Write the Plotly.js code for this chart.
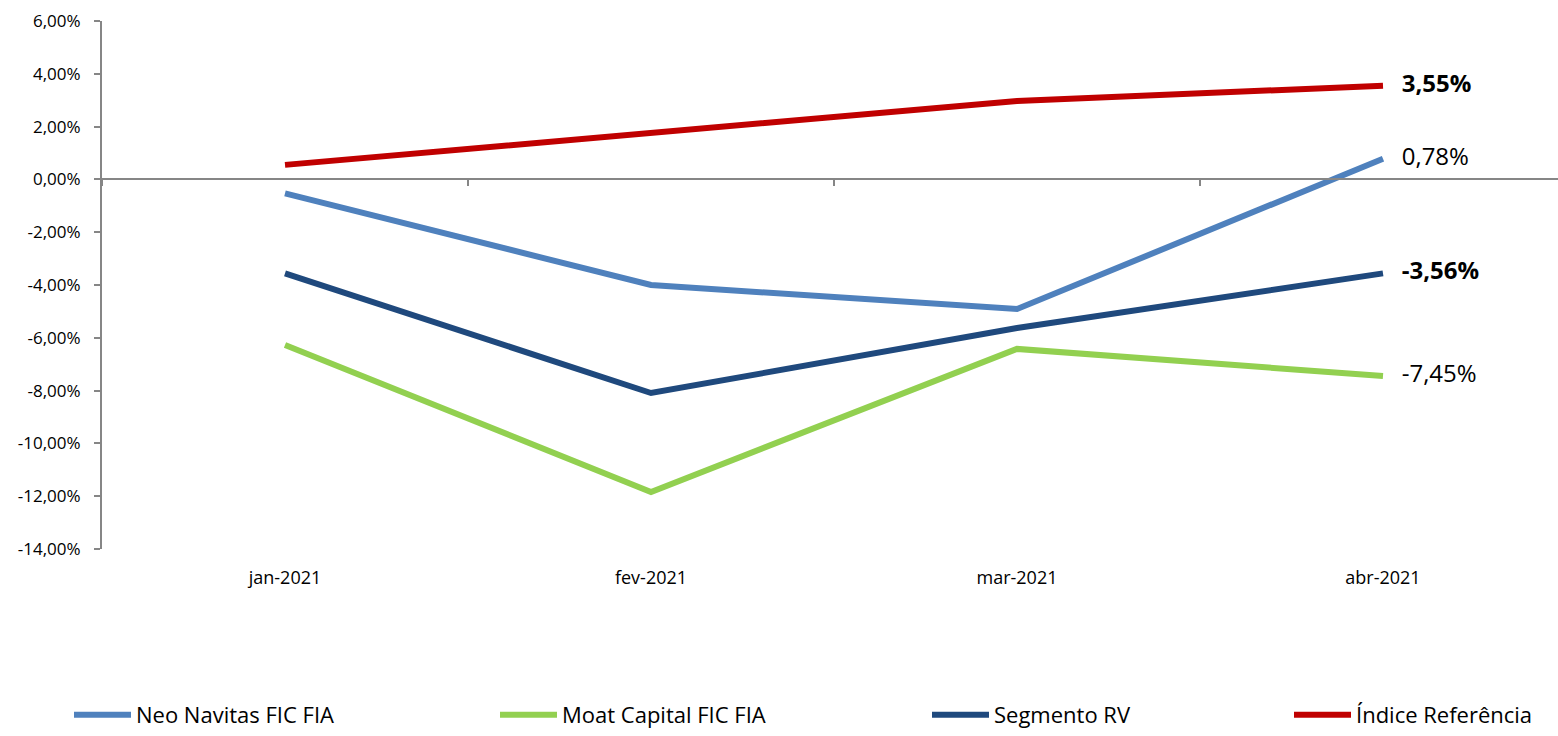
<!DOCTYPE html>
<html>
<head>
<meta charset="utf-8">
<script src="https://cdn.plot.ly/plotly-3.0.1.min.js"></script>
<style>html,body{margin:0;padding:0;background:#fff;}#chart{width:1558px;height:736px;}</style>
</head>
<body>
<div id="chart"></div>
<script>
const categories = ['jan-2021', 'fev-2021', 'mar-2021', 'abr-2021'];
const seriesNames = ['Neo Navitas FIC FIA', 'Moat Capital FIC FIA', 'Segmento RV', 'Índice Referência'];
const neoNavitas = [-0.53, -4.0, -4.91, 0.78];
const moatCapital = [-6.27, -11.84, -6.42, -7.45];
const segmentoRV = [-3.56, -8.09, -5.63, -3.56];
const indiceRef = [0.55, 1.75, 2.97, 3.55];
const yTickVals = [-14, -12, -10, -8, -6, -4, -2, 0, 2, 4, 6];

const colors = ['#4F81BD', '#92D050', '#1F497D', '#C00000'];
const boldLabel = [false, false, true, true];
const legendTextX = [137, 563, 995, 1357];

const allSeries = [neoNavitas, moatCapital, segmentoRV, indiceRef];
const W = 1558, H = 736, ML = 102, MR = 0, MT = 21, MB = 187;
const pw = W - ML - MR, ph = H - MT - MB;

function fmt(v) { return v.toFixed(2).replace('.', ',') + '%'; }
const pad = '\u00a0\u00a0\u00a0';

const traces = allSeries.map((vals, i) => {
  const last = vals.length - 1;
  const txt = vals.map((v, j) => j === last ? pad + (boldLabel[i] ? '<b>' + fmt(v) + '</b>' : fmt(v)) : '');
  return {
    type: 'scatter',
    mode: 'lines+text',
    name: seriesNames[i],
    x: categories,
    y: vals,
    text: txt,
    textposition: 'middle right',
    textfont: {family: 'Open Sans, sans-serif', size: 24, color: '#000'},
    line: {color: colors[i], width: 6},
    cliponaxis: false,
    hoverinfo: 'skip',
    legend: i === 0 ? 'legend' : 'legend' + (i + 1)
  };
});

function legendCfg(i) {
  return {
    orientation: 'h',
    x: (legendTextX[i] - 68 - ML) / pw,
    xanchor: 'left',
    yref: 'container',
    y: -0.006,
    yanchor: 'bottom',
    font: {family: 'Open Sans, sans-serif', size: 22, color: '#000'},
    itemwidth: 57,
    bgcolor: 'rgba(0,0,0,0)',
    borderwidth: 0
  };
}

const layout = {
  width: W, height: H,
  margin: {l: ML, r: MR, t: MT, b: MB, autoexpand: false},
  paper_bgcolor: '#fff', plot_bgcolor: '#fff',
  separators: ',.',
  showlegend: true,
  legend: legendCfg(0),
  legend2: legendCfg(1),
  legend3: legendCfg(2),
  legend4: legendCfg(3),
  xaxis: {
    type: 'category',
    range: [-0.5, -0.5 + pw / 366],
    anchor: 'free',
    position: 14 / 20,
    showline: true, linecolor: '#868686', linewidth: 2,
    showgrid: false, zeroline: false,
    ticks: 'outside', tickson: 'boundaries', ticklen: 6, tickcolor: '#868686', tickwidth: 2,
    ticklabelstandoff: 382,
    tickfont: {family: 'Open Sans, sans-serif', size: 18, color: '#000'}
  },
  yaxis: {
    range: [-14, 6],
    tickmode: 'array',
    tickvals: yTickVals,
    ticktext: yTickVals.map(fmt),
    showline: true, linecolor: '#868686', linewidth: 2,
    showgrid: false, zeroline: false,
    ticks: 'outside', ticklen: 6, tickcolor: '#868686', tickwidth: 2,
    ticklabelstandoff: 10,
    tickfont: {family: 'Open Sans, sans-serif', size: 17, color: '#000'}
  }
};

Plotly.newPlot('chart', traces, layout, {displayModeBar: false, staticPlot: true});
</script>
</body>
</html>
